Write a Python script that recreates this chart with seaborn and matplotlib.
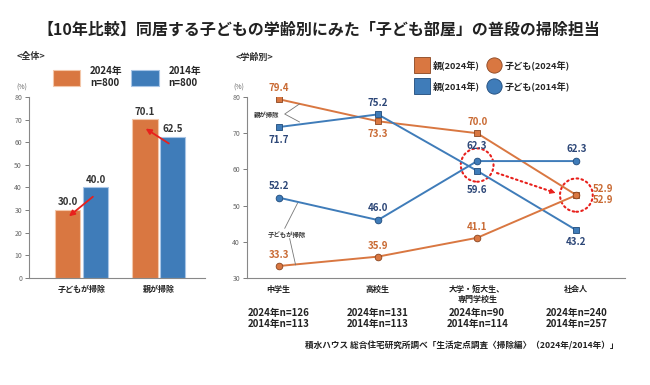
import matplotlib
matplotlib.use('Agg')
import matplotlib.pyplot as plt
import matplotlib.patches as mpatches
import matplotlib.transforms as mtransforms
from matplotlib.lines import Line2D
import pandas as pd
import seaborn as sns

# === data ===
overall_cats = ['子どもが掃除', '親が掃除']
overall_2024 = [30.0, 70.1]
overall_2014 = [40.0, 62.5]

stages = ['中学生', '高校生', '大学・短大生、\n専門学校生', '社会人']
parent_2024 = [79.4, 73.3, 70.0, 52.9]
parent_2014 = [71.7, 75.2, 59.6, 43.2]
child_2024 = [33.3, 35.9, 41.1, 52.9]
child_2014 = [52.2, 46.0, 62.3, 62.3]
n_2024 = [126, 131, 90, 240]
n_2014 = [113, 113, 114, 257]

ORANGE = '#D97741'
BLUE = '#3F7CB9'
ORANGE_TXT = '#C96A33'
BLUE_TXT = '#2C4677'
GREY = '#888888'
RED = '#E8201C'

sns.set_theme(style='white')
plt.rcParams['font.family'] = ['Noto Sans CJK JP', 'DejaVu Sans']

fig = plt.figure(figsize=(6.5, 3.85), dpi=100)
fig.patch.set_facecolor('white')

fig.text(0.49, 0.922, '【10年比較】同居する子どもの学齢別にみた「子ども部屋」の普段の掃除担当',
         ha='center', va='center', fontsize=11.5, fontweight='bold', color='#222222')

# === left: overall bars ===
ax1 = fig.add_axes([0.0446, 0.278, 0.271, 0.470])
df_bar = pd.DataFrame({
    'cat': overall_cats * 2,
    'val': overall_2024 + overall_2014,
    'year': ['2024'] * 2 + ['2014'] * 2,
})
sns.barplot(data=df_bar, x='cat', y='val', hue='year', palette=[ORANGE, BLUE],
            saturation=1, width=0.72, gap=0.08, ax=ax1, legend=False)
edge_cols = ['#F3C7AA', '#A8C5E6']
for cont, ec in zip(ax1.containers, edge_cols):
    for p in cont:
        p.set_edgecolor(ec)
        p.set_linewidth(0.8)
    ax1.bar_label(cont, fmt='%.1f', padding=2, fontsize=7, fontweight='bold', color='#333333')

ax1.set_xlim(-0.68, 1.60)
ax1.set_ylim(0, 80)
ax1.set_yticks(range(0, 81, 10))
ax1.set_xlabel('')
ax1.set_ylabel('')
ax1.tick_params(axis='y', labelsize=5, colors='#666666', length=3, width=0.6, direction='out', left=True, pad=2)
ax1.tick_params(axis='x', labelsize=5.8, length=0, pad=5)
for lab in ax1.get_xticklabels():
    lab.set_fontweight('bold')
    lab.set_color('#222222')
for s in ['top', 'right']:
    ax1.spines[s].set_visible(False)
for s in ['left', 'bottom']:
    ax1.spines[s].set_color(GREY)
    ax1.spines[s].set_linewidth(0.8)

# red arrows
ax1.annotate('', xy=(-0.19, 26.5), xytext=(0.175, 36.7),
             arrowprops=dict(arrowstyle='-|>', color=RED, lw=1.3, mutation_scale=8))
ax1.annotate('', xy=(0.80, 66.7), xytext=(1.16, 58.8),
             arrowprops=dict(arrowstyle='-|>', color=RED, lw=1.3, mutation_scale=8))

bar_handles = [mpatches.Patch(facecolor=ORANGE, edgecolor=edge_cols[0], lw=0.8),
               mpatches.Patch(facecolor=BLUE, edgecolor=edge_cols[1], lw=0.8)]
fig.legend(bar_handles, ['2024年\nn=800', '2014年\nn=800'], loc='upper left',
           bbox_to_anchor=(53 / 650, 1 - 66 / 385), ncol=2, frameon=False,
           handlelength=2.8, handleheight=2.1, handletextpad=1.0,
           columnspacing=0.9, borderpad=0, borderaxespad=0,
           prop={'weight': 'bold', 'size': 7})

fig.text(0.026, 0.852, '<全体>', fontsize=6.5, fontweight='bold', va='center', color='#333333')
fig.text(22 / 650, 1 - 88 / 385, '(%)', fontsize=5, ha='center', va='center', color='#666666')

# === right: by life stage ===
ax2 = fig.add_axes([0.380, 0.278, 0.5815, 0.470])
xs = list(range(len(stages)))
# label offsets in points (None = handled separately)
series = [
    (parent_2024, ORANGE, 's', '#8A4520', ORANGE_TXT, [8, -9.5, 8, None]),
    (parent_2014, BLUE, 's', '#1F4A7A', BLUE_TXT, [-9.5, 8.5, -14, -8.5]),
    (child_2024, ORANGE, 'o', '#8A4520', ORANGE_TXT, [8, 8, 8, None]),
    (child_2014, BLUE, 'o', '#1F4A7A', BLUE_TXT, [8.5, 8.5, 11, 9]),
]
for vals, col, mk, mec, tcol, offs in series:
    sns.lineplot(x=xs, y=vals, color=col, marker=mk, markersize=4.8 if mk == 'o' else 4.3,
                 markeredgecolor=mec, markeredgewidth=0.6, linewidth=1.4, ax=ax2)
    for x, v, dy in zip(xs, vals, offs):
        if dy is None:
            continue
        ax2.annotate(f'{v:.1f}', (x, v), xytext=(0, dy), textcoords='offset points',
                     ha='center', va='center', fontsize=7, fontweight='bold', color=tcol)

# stacked labels for 社会人 52.9
ax2.annotate(f'{parent_2024[3]:.1f}', (3, parent_2024[3]), xytext=(19.5, 4.3), textcoords='offset points',
             ha='center', va='center', fontsize=7, fontweight='bold', color=ORANGE_TXT)
ax2.annotate(f'{child_2024[3]:.1f}', (3, child_2024[3]), xytext=(19.5, -3.8), textcoords='offset points',
             ha='center', va='center', fontsize=7, fontweight='bold', color=ORANGE_TXT)

ax2.set_xlim(-0.32, 3.49)
ax2.set_ylim(30, 80)
ax2.set_yticks(range(30, 81, 10))
ax2.set_xticks(xs)
ax2.set_xticklabels(stages)
ax2.tick_params(axis='y', labelsize=5, colors='#666666', length=3, width=0.6, direction='out', left=True, pad=2)
ax2.tick_params(axis='x', labelsize=5.8, length=0, pad=5)
for lab in ax2.get_xticklabels():
    lab.set_fontweight('bold')
    lab.set_color('#222222')
    lab.set_linespacing(1.1)
for s in ['top', 'right']:
    ax2.spines[s].set_visible(False)
for s in ['left', 'bottom']:
    ax2.spines[s].set_color(GREY)
    ax2.spines[s].set_linewidth(0.8)

# bracket notes
ax2.text(-0.12, 75.3, '親が掃除', fontsize=4.6, ha='center', va='center', color='#333333', fontweight='bold')
ax2.plot([0.21, 0.06, 0.21], [78.1, 75.3, 73.1], color='#777777', lw=0.6)
ax2.text(0.08, 41.9, '子どもが掃除', fontsize=4.6, ha='center', va='center', color='#333333', fontweight='bold')
ax2.plot([0.19, 0.06], [50.7, 43.7], color='#777777', lw=0.6)
ax2.plot([0.11, 0.17], [40.9, 33.6], color='#777777', lw=0.6)

# dotted red circles and arrow
dots = (0, (0.8, 1.6))
mid = (child_2014[2] + parent_2014[2]) / 2
for center in [(2, mid + 0.25), (3, parent_2024[3])]:
    e = mpatches.Ellipse(center, 0.33, 9.2, fill=False, ec=RED, lw=1.5, ls=dots)
    e.set_capstyle('round')
    ax2.add_patch(e)
ax2.annotate('', xy=(2.79, 53.5), xytext=(2.20, 59.0),
             arrowprops=dict(arrowstyle='-', color=RED, lw=1.5, ls=dots, shrinkA=0, shrinkB=3,
                             capstyle='round'))
ax2.annotate('', xy=(2.79, 53.5), xytext=(2.74, 53.95),
             arrowprops=dict(arrowstyle='-|>', color=RED, lw=0.8, mutation_scale=8, shrinkA=0, shrinkB=0))

line_handles = [
    Line2D([], [], marker='s', ls='', color=ORANGE, mec='#8A4520', mew=0.6, markersize=11),
    Line2D([], [], marker='s', ls='', color=BLUE, mec='#1F4A7A', mew=0.6, markersize=11),
    Line2D([], [], marker='o', ls='', color=ORANGE, mec='#8A4520', mew=0.6, markersize=11),
    Line2D([], [], marker='o', ls='', color=BLUE, mec='#1F4A7A', mew=0.6, markersize=11),
]
fig.legend(line_handles, ['親(2024年)', '親(2014年)', '子ども(2024年)', '子ども(2014年)'],
           loc='upper left', bbox_to_anchor=(415 / 650, 1 - 60 / 385), ncol=2, frameon=False,
           handlelength=1.6, handletextpad=0.3, columnspacing=0.8, labelspacing=1.2,
           borderpad=0, borderaxespad=0, prop={'weight': 'bold', 'size': 6.6})

fig.text(0.362, 0.852, '<学齢別>', fontsize=6.5, fontweight='bold', va='center', color='#333333')
fig.text(239 / 650, 1 - 88 / 385, '(%)', fontsize=5, ha='center', va='center', color='#666666')

# sample sizes
n_trans = mtransforms.blended_transform_factory(ax2.transData, fig.transFigure)
for x, a, b in zip(xs, n_2024, n_2014):
    ax2.text(x, 1 - 318.5 / 385, f'2024年n={a}\n2014年n={b}', transform=n_trans,
             ha='center', va='center', fontsize=7, fontweight='bold', color='#222222', linespacing=1.15)

fig.text(0.951, 0.101, '積水ハウス 総合住宅研究所調べ「生活定点調査〈掃除編〉（2024年/2014年）」',
         ha='right', va='center', fontsize=6.2, fontweight='bold', color='#222222')

fig.savefig('out.png', dpi=100, facecolor='white')
